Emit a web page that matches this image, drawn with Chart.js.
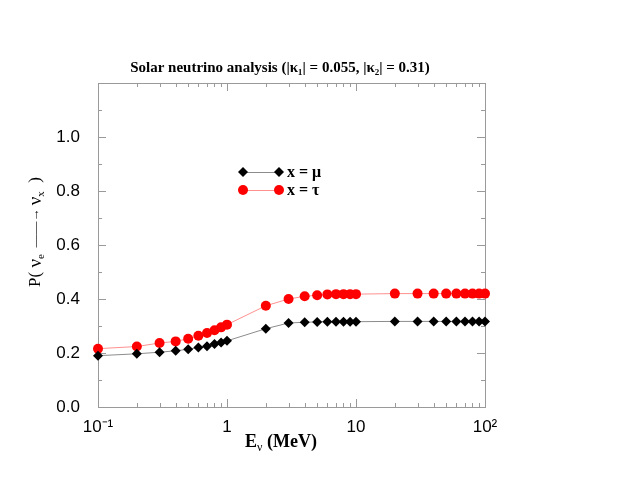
<!DOCTYPE html>
<html>
<head>
<meta charset="utf-8">
<script src="https://cdn.jsdelivr.net/npm/chart.js@4/dist/chart.umd.min.js"></script>
<style>
  html, body { margin: 0; padding: 0; background: #fff; }
  #wrap { width: 635px; height: 491px; }
</style>
</head>
<body>
<div id="wrap"><canvas id="chart"></canvas></div>
<script>
// energies (MeV)
var energies = [0.1, 0.2, 0.3, 0.4, 0.5, 0.6, 0.7, 0.8, 0.9, 1,
                2, 3, 4, 5, 6, 7, 8, 9, 10,
                20, 30, 40, 50, 60, 70, 80, 90, 100];
// x = mu
var probMu = [0.190, 0.197, 0.203, 0.208, 0.214, 0.220, 0.225, 0.233, 0.239, 0.245,
              0.290, 0.311, 0.314, 0.315, 0.316, 0.316, 0.316, 0.316, 0.316,
              0.317, 0.317, 0.317, 0.317, 0.317, 0.317, 0.317, 0.317, 0.317];
// x = tau
var probTau = [0.216, 0.224, 0.237, 0.243, 0.253, 0.264, 0.274, 0.284, 0.295, 0.305,
               0.375, 0.400, 0.410, 0.414, 0.417, 0.418, 0.418, 0.418, 0.418,
               0.420, 0.420, 0.420, 0.420, 0.420, 0.420, 0.420, 0.420, 0.420];

var xTickValues = [0.1, 1, 10, 100];
var xTickLabels = ['10\u207B\u00B9', '1', '10', '10\u00B2'];
var yTickValues = [0, 0.2, 0.4, 0.6, 0.8, 1.0];
var yTickLabels = ['0.0', '0.2', '0.4', '0.6', '0.8', '1.0'];
var seriesNames = ['x = \u03BC', 'x = \u03C4'];

var frameColor = '#9a9a9a';
var serif = '"Liberation Serif", "Times New Roman", serif';

function drawMarker(ctx, style, x, y, r, color) {
  ctx.fillStyle = color;
  ctx.beginPath();
  if (style === 'rectRot') {
    ctx.moveTo(x, y - r); ctx.lineTo(x + r, y); ctx.lineTo(x, y + r); ctx.lineTo(x - r, y);
    ctx.closePath();
  } else {
    ctx.arc(x, y, r, 0, Math.PI * 2);
  }
  ctx.fill();
}

// frame with inward ticks on all four sides, legend and titles
var framePlugin = {
  id: 'frame',
  beforeDatasetsDraw: function (chart) {
    var ctx = chart.ctx, a = chart.chartArea;
    var xs = chart.scales.x, ys = chart.scales.y;
    ctx.save();
    ctx.strokeStyle = frameColor;
    ctx.lineWidth = 1;
    ctx.strokeRect(a.left + 0.5, a.top + 0.5, a.right - a.left, a.bottom - a.top);
    ctx.beginPath();
    // x ticks
    for (var d = -1; d < 2; d++) {
      for (var m = 1; m < 10; m++) {
        var v = m * Math.pow(10, d);
        var px = Math.round(xs.getPixelForValue(v)) + 0.5;
        var len = m === 1 ? 8 : 4;
        ctx.moveTo(px, a.bottom); ctx.lineTo(px, a.bottom - len);
        ctx.moveTo(px, a.top); ctx.lineTo(px, a.top + len);
      }
    }
    // y ticks
    for (var i = 0; i <= 12; i++) {
      var py = Math.round(ys.getPixelForValue(i / 10)) + 0.5;
      var l2 = i % 2 === 0 ? 8 : 4;
      ctx.moveTo(a.left, py); ctx.lineTo(a.left + l2, py);
      ctx.moveTo(a.right, py); ctx.lineTo(a.right - l2, py);
    }
    ctx.stroke();
    ctx.restore();
  },
  afterDraw: function (chart) {
    var ctx = chart.ctx;
    ctx.save();

    // legend
    var ds = chart.data.datasets;
    var lx0 = 243, lx1 = 279, ly = [172, 190];
    ctx.font = 'bold 16px ' + serif;
    ctx.textBaseline = 'middle';
    ctx.textAlign = 'left';
    for (var k = 0; k < ds.length; k++) {
      ctx.strokeStyle = ds[k].borderColor;
      ctx.lineWidth = 1;
      ctx.beginPath();
      ctx.moveTo(lx0, ly[k] + 0.5); ctx.lineTo(lx1, ly[k] + 0.5);
      ctx.stroke();
      drawMarker(ctx, ds[k].pointStyle, lx0, ly[k], ds[k].pointRadius, ds[k].pointBackgroundColor);
      drawMarker(ctx, ds[k].pointStyle, lx1, ly[k], ds[k].pointRadius, ds[k].pointBackgroundColor);
      ctx.fillStyle = '#000';
      ctx.fillText(ds[k].label, 287, ly[k] + 1);
    }

    // title
    ctx.font = 'bold 15px ' + serif;
    var title = 'Solar neutrino analysis (|\u03BA\u2081| = 0.055, |\u03BA\u2082| = 0.31)';
    var tw = ctx.measureText(title).width;
    ctx.fillText(title, 280 - tw / 2, 68);

    // x title: E_nu (MeV)
    var cx = 281, cy = 442;
    ctx.font = 'bold 18px ' + serif;
    var wE = ctx.measureText('E').width;
    var wRest = ctx.measureText(' (MeV)').width;
    ctx.font = '12px ' + serif;
    var wNu = ctx.measureText('\u03BD').width;
    var sx = cx - (wE + wNu + wRest) / 2;
    ctx.font = 'bold 18px ' + serif;
    ctx.fillText('E', sx, cy);
    ctx.fillText(' (MeV)', sx + wE + wNu, cy);
    ctx.font = '12px ' + serif;
    ctx.fillText('\u03BD', sx + wE, cy + 6);

    // y title: P( nu_e -> nu_x )
    ctx.translate(36, 232);
    ctx.rotate(-Math.PI / 2);
    var parts = [
      ['P( ', '17px', 0], ['\u03BD', '19px', 0], ['e', '11px', 5],
      ['  \u2014\u2014\u2192 ', '13px', 0], ['\u03BD', '19px', 0], ['x', '11px', 5], ['  )', '17px', 0]
    ];
    var total = 0;
    parts.forEach(function (p) {
      ctx.font = p[1] + ' ' + serif;
      total += ctx.measureText(p[0]).width;
    });
    var ox = -total / 2;
    parts.forEach(function (p) {
      ctx.font = p[1] + ' ' + serif;
      ctx.fillText(p[0], ox, p[2]);
      ox += ctx.measureText(p[0]).width;
    });
    ctx.restore();
  }
};

new Chart(document.getElementById('chart'), {
  type: 'line',
  data: {
    labels: energies,
    datasets: [{
      label: seriesNames[0],
      data: energies.map(function (e, i) { return { x: e, y: probMu[i] }; }),
      borderColor: '#8c8c8c',
      borderWidth: 1,
      pointStyle: 'rectRot',
      pointRadius: 5,
      pointBackgroundColor: '#000',
      pointBorderWidth: 0,
      tension: 0,
      clip: false
    }, {
      label: seriesNames[1],
      data: energies.map(function (e, i) { return { x: e, y: probTau[i] }; }),
      borderColor: '#ff9090',
      borderWidth: 1,
      pointStyle: 'circle',
      pointRadius: 5,
      pointBackgroundColor: '#ff0000',
      pointBorderWidth: 0,
      tension: 0,
      clip: false
    }]
  },
  options: {
    responsive: true,
    maintainAspectRatio: false,
    animation: false,
    events: [],
    layout: { padding: { left: 0, right: 150, top: 83, bottom: 0 } },
    plugins: { legend: { display: false }, tooltip: { enabled: false }, title: { display: false } },
    scales: {
      x: {
        type: 'logarithmic',
        min: 0.1, max: 100,
        grid: { display: false },
        border: { display: false },
        afterBuildTicks: function (s) { s.ticks = xTickValues.map(function (v) { return { value: v }; }); },
        afterFit: function (s) { s.height = 84; },
        ticks: {
          color: '#000',
          padding: 2,
          maxRotation: 0,
          autoSkip: false,
          font: { family: '"Liberation Sans", Arial, sans-serif', size: 17 },
          callback: function (v) { var i = xTickValues.indexOf(v); return i >= 0 ? xTickLabels[i] : ''; }
        }
      },
      y: {
        min: 0, max: 1.2,
        grid: { display: false },
        border: { display: false },
        afterBuildTicks: function (s) { s.ticks = yTickValues.map(function (v) { return { value: v }; }); },
        afterFit: function (s) { s.width = 98; },
        ticks: {
          color: '#000',
          padding: 10,
          font: { family: '"Liberation Sans", Arial, sans-serif', size: 17 },
          callback: function (v) {
            for (var i = 0; i < yTickValues.length; i++) if (Math.abs(yTickValues[i] - v) < 1e-6) return yTickLabels[i];
            return '';
          }
        }
      }
    }
  },
  plugins: [framePlugin]
});
</script>
</body>
</html>
